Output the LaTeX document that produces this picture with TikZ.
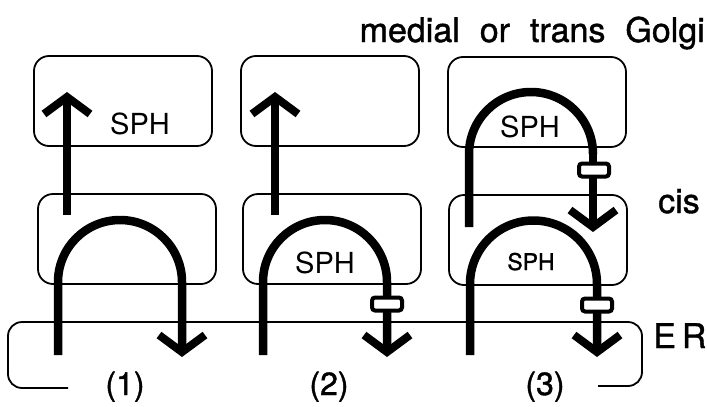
\documentclass[tikz,border=0pt]{standalone}
\usepackage{fontspec}
\setmainfont{TeX Gyre Heros}
\newfontfamily\heavyfont{TeX Gyre Heros}[FakeBold=1.2]
\usetikzlibrary{arrows.meta}

\begin{document}
\begin{tikzpicture}[x=1pt,y=-1pt,
    cisterna/.style={draw, line width=1.8pt, rounded corners=15pt,
        minimum width=178pt, minimum height=90pt},
    er/.style={draw, line width=1.8pt, rounded corners=14pt},
    flow/.style={line width=8.5pt, -{Straight Barb[length=17pt,width=46pt,line width=8pt]}},
    leg/.style={line width=8.5pt},
    valve/.style={draw, line width=4pt, fill=white, rounded corners=3pt,
        minimum width=30pt, minimum height=13pt, inner sep=0pt},
    big/.style={font=\heavyfont\fontsize{34}{34}\selectfont, inner sep=0pt},
    sph/.style={font=\fontsize{29}{29}\selectfont, inner sep=0pt, anchor=base},
    sphsmall/.style={font=\heavyfont\fontsize{23}{23}\selectfont, inner sep=0pt, anchor=base},
    num/.style={font=\heavyfont\fontsize{32}{32}\selectfont, inner sep=0pt, anchor=base}]

    \useasboundingbox (0,0) rectangle (707,407);

    % Golgi cisternae
    \node[cisterna] (top1) at (123,101) {};
    \node[cisterna] (top2) at (330,101) {};
    \node[cisterna] (top3) at (537,102) {};
    \node[cisterna] (cis1) at (127,239) {};
    \node[cisterna] (cis2) at (332,239) {};
    \node[cisterna] (cis3) at (538,240) {};

    % ER
    \draw[er] (68,388) -- (8,388) -- (8,322) -- (642,322) -- (642,386) -- (598,386);

    % (1)
    \draw[flow] (67,215) -- (67,92);
    \draw[flow] (58,355) -- (58,282) arc[start angle=180, end angle=360, radius=62] -- (182,357);

    % (2)
    \draw[flow] (275,215) -- (275,92);
    \draw[flow] (263,355) -- (263,282) arc[start angle=180, end angle=360, radius=62] -- (387,357);
    \node[valve] (v2) at (387,304) {};

    % (3)
    \draw[leg] (469,227) -- (469,154) arc[start angle=180, end angle=360, radius=62] coordinate (r3);
    \draw[flow] (r3) -- (593,232);
    \node[valve] (v3a) at (594,170) {};
    \draw[flow] (470,355) -- (470,284) arc[start angle=180, end angle=360, radius=63.5] -- (597,357);
    \node[valve] (v3b) at (597,305) {};

    % labels
    \node[sph] (s1) at (140,134) {SPH};
    \node[sph] (s2) at (325,273) {SPH};
    \node[sph] (s3) at (530,137) {SPH};
    \node[sphsmall] (s4) at (531,270) {SPH};
    \node[big, anchor=base east] (golgi) at (705,42) {medial\hspace{20pt}or\hspace{20pt}trans\hspace{20pt}Golgi};
    \node[big, anchor=base west] (cis) at (658,213) {cis};
    \node[big, anchor=base west] (erlabel) at (653,348) {E\hspace{6pt}R};
    \node[num] (n1) at (125,395) {(1)};
    \node[num] (n2) at (329,395) {(2)};
    \node[num] (n3) at (545,395) {(3)};

\end{tikzpicture}
\end{document}
